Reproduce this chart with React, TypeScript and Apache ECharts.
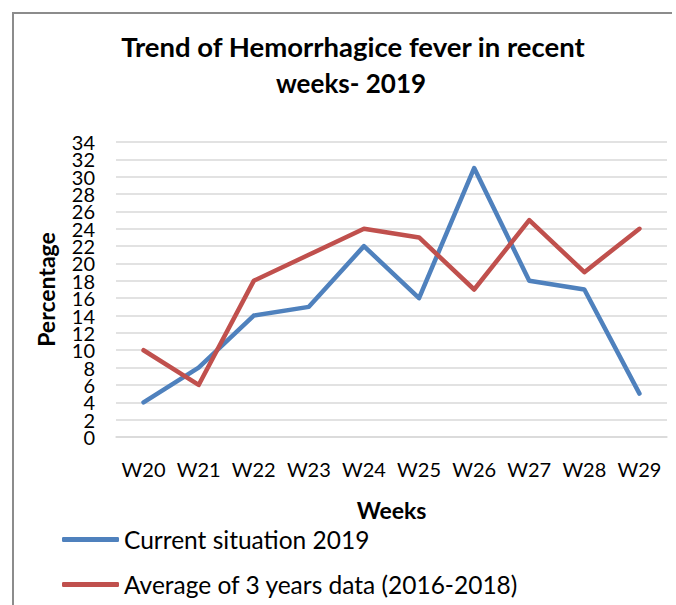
import React, { useEffect, useRef } from "react";
import * as echarts from "echarts";

const weeks = ["W20", "W21", "W22", "W23", "W24", "W25", "W26", "W27", "W28", "W29"];
const current2019 = [4, 8, 14, 15, 22, 16, 31, 18, 17, 5];
const average3Years = [10, 6, 18, 21, 24, 23, 17, 25, 19, 24];
const yTickLabels = ["0", "2", "4", "6", "8", "10", "12", "14", "16", "18", "20", "22", "24", "26", "28", "30", "32", "34"];
const seriesNames = ["Current situation 2019", "Average of 3 years data (2016-2018)"];
const titleLines = ["Trend of Hemorrhagice fever in recent", "weeks- 2019"];

export default function App() {
  const ref = useRef<HTMLDivElement>(null);

  useEffect(() => {
    if (!ref.current) return;
    const chart = echarts.init(ref.current, undefined, { renderer: "svg" });
    const font = "Lato, 'Open Sans', sans-serif";
    chart.setOption({
      animation: false,
      backgroundColor: "#ffffff",
      textStyle: { fontFamily: font },
      graphic: [
        {
          type: "polyline",
          shape: { points: [[13, 610], [13, 13], [672, 13]] },
          style: { stroke: "#8c8c8c", lineWidth: 2, fill: null },
          silent: true,
        },
        {
          type: "text",
          x: 353,
          y: 60,
          style: {
            text: titleLines[0],
            font: `bold 27.5px ${font}`,
            fill: "#000",
            textAlign: "center",
            textVerticalAlign: "bottom",
          },
        },
        {
          type: "text",
          x: 351,
          y: 96,
          style: {
            text: titleLines[1],
            font: `bold 26px ${font}`,
            fill: "#000",
            textAlign: "center",
            textVerticalAlign: "bottom",
          },
        },
      ],
      grid: { left: 116, right: 9, top: 142, bottom: 168, containLabel: false },
      legend: {
        orient: "vertical",
        left: 62,
        top: 527,
        padding: 0,
        itemGap: 20,
        itemWidth: 57,
        itemHeight: 5,
        icon: "roundRect",
        data: seriesNames,
        textStyle: { fontSize: 24.5, color: "#000", fontFamily: font, lineHeight: 24 },
      },
      xAxis: {
        type: "category",
        data: weeks,
        boundaryGap: true,
        name: "Weeks",
        nameLocation: "middle",
        nameGap: 61,
        nameTextStyle: { fontSize: 23, fontWeight: "bold", color: "#000", fontFamily: font },
        axisLine: { show: true, lineStyle: { color: "#d9d9d9", width: 1.5 } },
        axisTick: { show: false },
        axisLabel: { fontSize: 20, color: "#000", margin: 22, fontFamily: font, interval: 0 },
      },
      yAxis: [
        {
          type: "value",
          position: "left",
          min: 0,
          max: 34,
          interval: 2,
          name: "Percentage",
          nameLocation: "middle",
          nameGap: 59,
          nameRotate: 90,
          nameTextStyle: { fontSize: 23, fontWeight: "bold", color: "#000", fontFamily: font },
          axisLine: { show: false },
          axisTick: { show: false },
          axisLabel: { show: false },
          splitLine: { show: true, lineStyle: { color: "#d9d9d9", width: 1.5 } },
        },
        {
          type: "category",
          position: "left",
          data: yTickLabels,
          boundaryGap: false,
          axisLine: { show: false },
          axisTick: { show: false },
          splitLine: { show: false },
          axisLabel: {
            interval: 0,
            fontSize: 20,
            color: "#000",
            margin: 21,
            fontFamily: font,
          },
        },
      ],
      series: [
        {
          name: seriesNames[0],
          type: "line",
          yAxisIndex: 0,
          data: current2019,
          symbol: "none",
          color: "#4f81bd",
          lineStyle: { width: 4.5, color: "#4f81bd", cap: "round", join: "round" },
        },
        {
          name: seriesNames[1],
          type: "line",
          yAxisIndex: 0,
          data: average3Years,
          symbol: "none",
          color: "#c0504d",
          lineStyle: { width: 4.5, color: "#c0504d", cap: "round", join: "round" },
        },
      ],
    });
    return () => chart.dispose();
  }, []);

  return (
    <div
      ref={ref}
      style={{ position: "fixed", left: 0, top: 0, width: 676, height: 605, background: "#fff" }}
    />
  );
}
